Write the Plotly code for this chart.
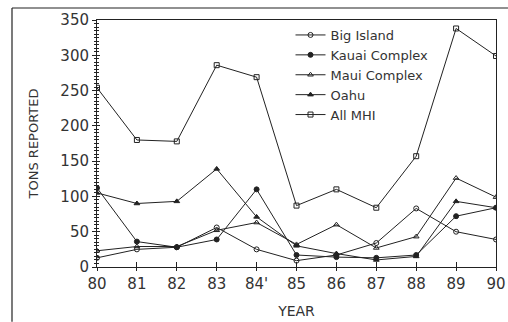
import plotly.graph_objects as go

years = [80, 81, 82, 83, 84, 85, 86, 87, 88, 89, 90]
tick_labels = ["80", "81", "82", "83", "84'", "85", "86", "87", "88", "89", "90"]

big_island = [13, 25, 28, 56, 25, 9, 17, 34, 83, 50, 39]
kauai = [112, 36, 28, 39, 110, 17, 14, 13, 17, 72, 84]
maui = [23, 29, 29, 52, 63, 32, 60, 27, 43, 126, 99]
oahu = [105, 90, 93, 139, 71, 30, 19, 10, 15, 93, 84]
all_mhi = [254, 180, 178, 286, 269, 87, 110, 84, 157, 338, 299]

series = [
    ("Big Island", big_island, "circle-open"),
    ("Kauai Complex", kauai, "circle"),
    ("Maui Complex", maui, "triangle-up-open"),
    ("Oahu", oahu, "triangle-up"),
    ("All MHI", all_mhi, "square-open"),
]

INK = "#222222"
FONT = "DejaVu Sans"

fig = go.Figure()
for name, vals, sym in series:
    fig.add_trace(go.Scatter(
        x=years, y=vals, name=name, mode="lines+markers",
        line=dict(color=INK, width=1),
        marker=dict(symbol=sym, size=5, color=INK, line=dict(color=INK, width=1)),
    ))
# empty trace for overlay axes (inner half of crossing ticks)
fig.add_trace(go.Scatter(x=[], y=[], xaxis="x2", yaxis="y2", showlegend=False))

fig.update_layout(
    width=508, height=322,
    margin=dict(l=97, r=12, t=20, b=55),
    paper_bgcolor="white", plot_bgcolor="white",
    font=dict(family=FONT, color=INK, size=14),
    showlegend=True,
    legend=dict(x=0.485, y=1.0, xanchor="left", yanchor="top",
                bgcolor="rgba(0,0,0,0)", font=dict(size=13, family=FONT, color="#333333"),
                tracegroupgap=0, itemwidth=30),
    xaxis=dict(range=[80, 90], tickmode="array", tickvals=years, ticktext=tick_labels,
               showgrid=False, zeroline=False, showline=True, linecolor=INK, linewidth=1,
               mirror=True, ticks="outside", ticklen=3, tickcolor=INK, automargin=False,
               tickfont=dict(size=15, color="#333333"),
               title=dict(text="YEAR", font=dict(size=14, color="#333333"), standoff=14)),
    yaxis=dict(range=[0, 350], dtick=50, showgrid=False, zeroline=False,
               showline=True, linecolor=INK, linewidth=1, mirror=True,
               ticks="outside", ticklen=4, tickcolor=INK, automargin=False,
               minor=dict(dtick=5, ticks="outside", ticklen=2, tickcolor=INK),
               tickfont=dict(size=15, color="#333333"),
               title=dict(text="TONS REPORTED", font=dict(size=13, color="#333333"), standoff=18)),
    xaxis2=dict(range=[80, 90], overlaying="x", anchor="y", tickmode="array",
                tickvals=years, showticklabels=False, showgrid=False, zeroline=False,
                showline=False, ticks="inside", ticklen=5, tickcolor=INK, side="bottom",
                automargin=False),
    yaxis2=dict(range=[0, 350], overlaying="y", anchor="x", dtick=50,
                showticklabels=False, showgrid=False, zeroline=False, showline=False,
                ticks="inside", ticklen=3, tickcolor=INK, side="left", automargin=False,
                minor=dict(dtick=5, ticks="inside", ticklen=2, tickcolor=INK)),
)

# outer frame (top and left edges of the scanned figure box)
fx0 = (12 - 97) / 399
fy_top = (267 - 8) / 247
fig.add_shape(type="line", xref="paper", yref="paper", x0=fx0, x1=1.03, y0=fy_top, y1=fy_top,
              line=dict(color=INK, width=1.2))
fig.add_shape(type="line", xref="paper", yref="paper", x0=fx0, x1=fx0, y0=fy_top, y1=-0.222,
              line=dict(color=INK, width=1.2))

fig.write_html("out.html")
